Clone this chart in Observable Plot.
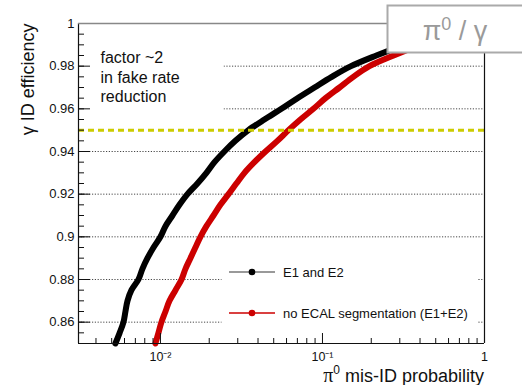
<!DOCTYPE html>
<html>
<head>
<meta charset="utf-8">
<script src="https://cdn.jsdelivr.net/npm/d3@7"></script>
<script src="https://cdn.jsdelivr.net/npm/@observablehq/plot@0.6"></script>
<style>
  html, body { margin: 0; padding: 0; background: white; }
</style>
</head>
<body>
<div id="chart"></div>
<script>
// ---------- data ----------
const efficiency = [0.85, 0.855, 0.86, 0.865, 0.87, 0.875, 0.88, 0.885, 0.89, 0.895,
  0.90, 0.905, 0.91, 0.915, 0.92, 0.925, 0.93, 0.935, 0.94, 0.945,
  0.95, 0.955, 0.96, 0.965, 0.97, 0.975, 0.98, 0.985, 0.99, 0.995];
const misIdE1E2 = [0.00527, 0.00560, 0.00591, 0.00608, 0.00626, 0.00662, 0.00731, 0.00774, 0.00831, 0.00906,
  0.0100, 0.01074, 0.01186, 0.01310, 0.01468, 0.01691, 0.01922, 0.02155, 0.0248, 0.0290,
  0.0349, 0.0438, 0.0558, 0.0701, 0.0893, 0.114, 0.150, 0.215, 0.32, 0.50];
const misIdNoSeg = [0.00931, 0.00972, 0.01014, 0.01074, 0.01137, 0.01238, 0.01349, 0.01427, 0.01531, 0.01643,
  0.01765, 0.01922, 0.02124, 0.02344, 0.0263, 0.0294, 0.0330, 0.0380, 0.0445, 0.0527,
  0.0617, 0.0731, 0.0879, 0.1044, 0.1274, 0.155, 0.195, 0.275, 0.40, 0.62];
const seriesNames = ["E1 and E2", "no ECAL segmentation (E1+E2)"];
const seriesColors = ["#000000", "#cc0000"];
const legendLineColors = ["#777777", "#cc0000"];
const refEfficiency = [0.95];

const xDomain = [0.00312, 1];
const yDomain = [0.85, 1];
const xMajor = [0.01, 0.1, 1];
const xTickLabels = ["10\u207B\u00B2", "10\u207B\u00B9", "1"];
const xMinor = [0.004,0.005,0.006,0.007,0.008,0.009,0.02,0.03,0.04,0.05,0.06,0.07,0.08,0.09,0.2,0.3,0.4,0.5,0.6,0.7,0.8,0.9];
const yMajor = [0.86, 0.88, 0.9, 0.92, 0.94, 0.96, 0.98, 1];
const yTickLabels = ["0.86", "0.88", "0.9", "0.92", "0.94", "0.96", "0.98", "1"];
const yMinor = d3.range(0, 31).map(i => +(0.85 + i * 0.005).toFixed(3));
const yGrid = yMajor.filter(d => d < 1);

const annotation = "factor ~2\nin fake rate\nreduction";
const yTitle = "\u03B3 ID efficiency";
const xTitleParts = ["\u03C0", "0", " mis-ID probability"];
const boxTitle = ["\u03C0", "0", " / \u03B3"];

// ---------- layout ----------
const W = 522, H = 385;
const mL = 78, mR = 38, mT = 23, mB = 42;
const pW = W - mL - mR, pH = H - mT - mB;
const font = "'Liberation Sans', Arial, Helvetica, sans-serif";

const rowsBlack = efficiency.map((e, i) => ({s: seriesNames[0], x: misIdE1E2[i], y: e}));
const rowsRed = efficiency.map((e, i) => ({s: seriesNames[1], x: misIdNoSeg[i], y: e}));

function legendMark() {
  const g = d3.create("svg:g").attr("text-anchor", "start");
  const x0 = 229, x1 = 275, xt = 283;
  const ys = [272, 313];
  seriesNames.forEach((name, i) => {
    g.append("line").attr("x1", x0).attr("x2", x1).attr("y1", ys[i]).attr("y2", ys[i])
      .attr("stroke", legendLineColors[i]).attr("stroke-width", 1.6);
    g.append("circle").attr("cx", (x0 + x1) / 2).attr("cy", ys[i]).attr("r", 3.3)
      .attr("fill", seriesColors[i]);
    g.append("text").attr("x", xt).attr("y", ys[i]).attr("dy", "0.35em")
      .attr("text-anchor", "start")
      .attr("font-size", 13).attr("font-family", font).attr("fill", "#111").text(name);
  });
  return g.node();
}

function boxTitleMark() {
  const g = d3.create("svg:g");
  const t = g.append("text").attr("x", 455).attr("y", 40).attr("text-anchor", "middle")
    .attr("font-family", font).attr("font-size", 27).attr("fill", "#9a9a9a");
  t.append("tspan").text(boxTitle[0]);
  t.append("tspan").attr("dy", -10).attr("font-size", 18).text(boxTitle[1]);
  t.append("tspan").attr("dy", 10).text(boxTitle[2]);
  return g.node();
}

function xTitleMark() {
  const g = d3.create("svg:g");
  const t = g.append("text").attr("x", mL + pW).attr("y", 382).attr("text-anchor", "end")
    .attr("font-family", font).attr("font-size", 18).attr("fill", "#111");
  t.append("tspan").attr("font-family", "'Liberation Serif', serif").attr("font-size", 20).text(xTitleParts[0]);
  t.append("tspan").attr("dy", -8).attr("font-size", 12).text(xTitleParts[1]);
  t.append("tspan").attr("dy", 8).text(xTitleParts[2]);
  return g.node();
}

const chart = Plot.plot({
  width: W, height: H,
  marginLeft: mL, marginRight: mR, marginTop: mT, marginBottom: mB,
  style: {fontFamily: font, fontSize: "13px", background: "white", color: "#111", overflow: "visible"},
  x: {type: "log", domain: xDomain},
  y: {domain: yDomain},
  marks: [
    // grid
    Plot.ruleY(yGrid, {y: d => d, stroke: "#333", strokeWidth: 0.9, strokeDasharray: "1.2,1.6"}),
    // white box behind annotation
    Plot.frame({fill: "white", stroke: null, insetLeft: 1, insetTop: 14, insetRight: pW - (223 - mL), insetBottom: pH - (118 - mT)}),
    // white box behind legend
    Plot.frame({fill: "white", stroke: null, insetLeft: 221 - mL, insetRight: 7, insetTop: 250 - mT, insetBottom: 11}),
    // curves
    Plot.line(rowsBlack, {x: "x", y: "y", stroke: seriesColors[0], strokeWidth: 6, curve: "catmull-rom", strokeLinejoin: "round", strokeLinecap: "round"}),
    Plot.line(rowsRed, {x: "x", y: "y", stroke: seriesColors[1], strokeWidth: 6, curve: "catmull-rom", strokeLinejoin: "round", strokeLinecap: "round"}),
    // reference line
    Plot.ruleY(refEfficiency, {y: d => d, stroke: "#cccc00", strokeWidth: 3, strokeDasharray: "6,4"}),
    // ticks
    Plot.tickY(yMinor, {y: d => d, stroke: "#111", insetRight: pW - 6}),
    Plot.tickY(yMajor, {y: d => d, stroke: "#111", insetRight: pW - 12}),
    Plot.tickX(xMinor, {x: d => d, stroke: "#111", insetTop: pH - 5}),
    Plot.tickX(xMajor, {x: d => d, stroke: "#111", insetTop: pH - 10}),
    // axis lines / frame
    Plot.ruleX([xDomain[0]], {x: d => d, stroke: "#111", strokeWidth: 1.2}),
    Plot.ruleX([xDomain[1]], {x: d => d, stroke: "#111", strokeWidth: 1.2}),
    Plot.ruleY([yDomain[0]], {y: d => d, stroke: "#111", strokeWidth: 1.2}),
    Plot.ruleY([yDomain[1]], {y: d => d, stroke: "#888", strokeWidth: 1.5}),
    // axes labels
    Plot.axisY({ticks: yMajor, tickSize: 0, tickPadding: 4, tickFormat: (d) => yTickLabels[yMajor.indexOf(d)], fontSize: 13, label: null}),
    Plot.axisX({ticks: xMajor, tickSize: 0, tickPadding: 9, tickFormat: (d) => xTickLabels[xMajor.indexOf(d)], fontSize: 12.5, label: null}),
    // annotation text
    Plot.text([annotation], {text: d => d, frameAnchor: "top-left", textAnchor: "start", lineAnchor: "top", dx: 22, dy: 26, fontSize: 16, lineHeight: 1.22, fill: "#111"}),
    // y title
    Plot.text([yTitle], {text: d => d, frameAnchor: "top-left", rotate: -90, textAnchor: "end", lineAnchor: "middle", dx: -50, dy: 0, fontSize: 18, fill: "#111"}),
    legendMark,
    xTitleMark,
    // pi0/gamma box
    Plot.frame({fill: "white", stroke: "#aaa", strokeWidth: 2, insetLeft: 387 - mL, insetRight: -44, insetTop: -18, insetBottom: pH - (52 - mT)}),
    boxTitleMark
  ]
});
document.getElementById("chart").appendChild(chart);
</script>
</body>
</html>
